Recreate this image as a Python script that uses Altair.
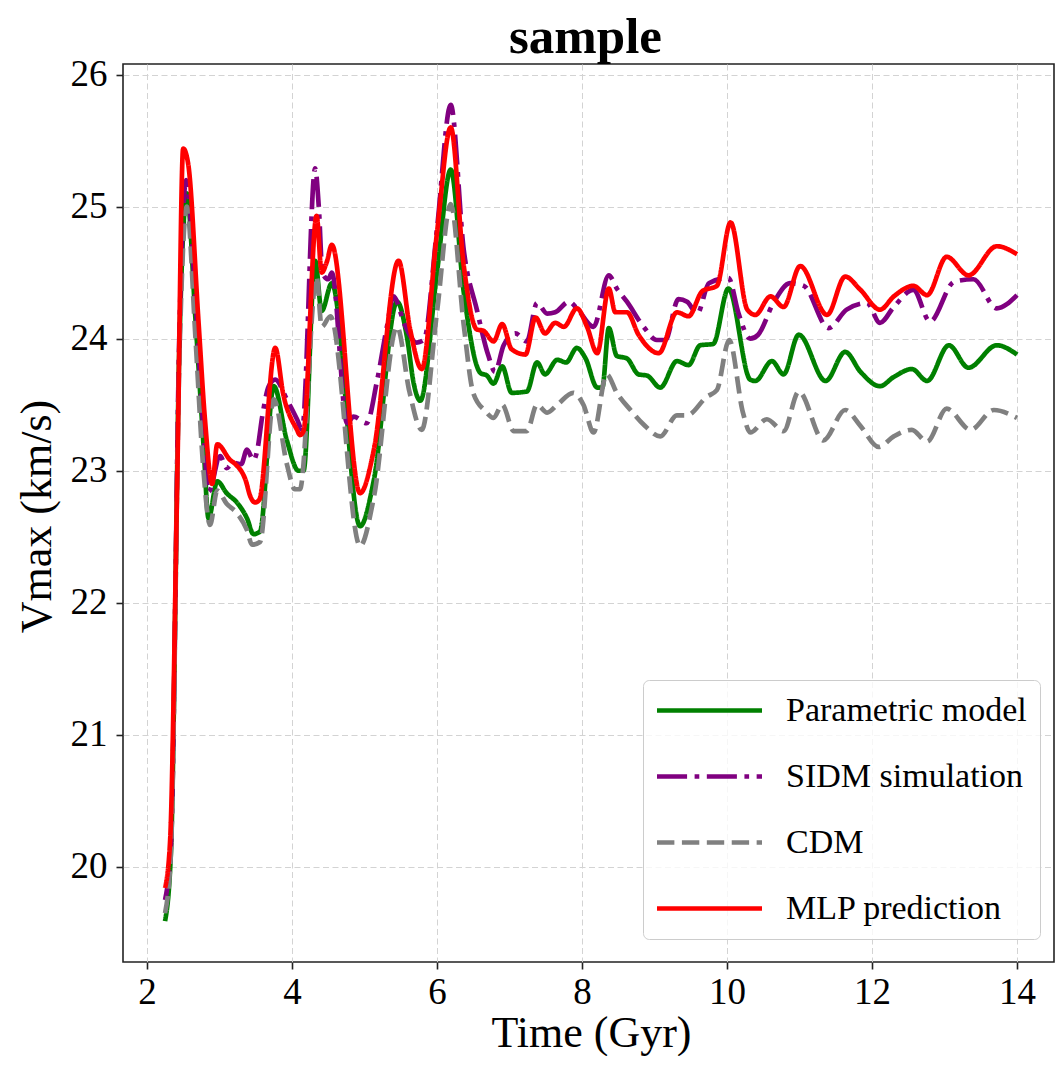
import altair as alt
import pandas as pd

# ---- data ----
series_names = ["Parametric model", "SIDM simulation", "CDM", "MLP prediction"]
series_colors = ["#008000", "#800080", "#808080", "#ff0000"]

t_param = [2.25, 2.33, 2.45, 2.55, 2.67, 2.78, 2.85, 2.97, 3.10, 3.24, 3.38, 3.47, 3.56, 3.75, 3.93, 4.09, 4.16,
           4.32, 4.41, 4.55, 4.94, 5.13, 5.45, 5.59, 5.68, 5.77, 6.00, 6.19, 6.37, 6.60, 6.69, 6.78, 6.90, 7.03,
           7.24, 7.38, 7.49, 7.66, 7.78, 7.93, 8.05, 8.21, 8.28, 8.37, 8.48, 8.62, 8.78, 8.90, 9.08, 9.31, 9.47,
           9.63, 9.81, 10.02, 10.32, 10.39, 10.62, 10.78, 10.99, 11.36, 11.63, 11.84, 12.11, 12.30, 12.55, 12.76,
           13.06, 13.33, 13.72, 14.00]
v_param = [19.59, 20.10, 24.00, 25.10, 24.14, 23.20, 22.64, 22.92, 22.83, 22.76, 22.64, 22.52, 22.54, 23.64, 23.23,
           23.00, 23.00, 24.59, 24.21, 24.42, 22.58, 22.93, 24.28, 24.00, 23.66, 23.53, 24.50, 25.28, 24.35, 23.74,
           23.72, 23.66, 23.79, 23.59, 23.60, 23.82, 23.73, 23.84, 23.82, 23.93, 23.85, 23.63, 23.63, 24.08, 23.87,
           23.85, 23.73, 23.72, 23.63, 23.83, 23.80, 23.95, 23.96, 24.38, 23.69, 23.68, 23.83, 23.73, 24.03, 23.68,
           23.90, 23.75, 23.64, 23.71, 23.77, 23.68, 23.95, 23.78, 23.95, 23.88]

t_sidm = [2.25, 2.33, 2.45, 2.54, 2.67, 2.78, 2.85, 3.01, 3.10, 3.19, 3.30, 3.38, 3.47, 3.52, 3.59, 3.68, 3.77,
          3.93, 4.07, 4.14, 4.32, 4.37, 4.42, 4.50, 4.55, 4.76, 4.85, 5.03, 5.17, 5.31, 5.40, 5.56, 5.72, 5.82,
          6.00, 6.19, 6.37, 6.55, 6.71, 6.80, 6.92, 7.08, 7.24, 7.38, 7.52, 7.63, 7.82, 7.93, 8.16, 8.37, 8.48,
          8.62, 8.85, 9.03, 9.15, 9.33, 9.45, 9.59, 9.75, 10.02, 10.16, 10.32, 10.43, 10.64, 10.87, 11.06, 11.40,
          11.65, 11.93, 12.11, 12.30, 12.57, 12.80, 13.13, 13.40, 13.72, 14.00]
v_sidm = [19.75, 20.15, 24.10, 25.20, 24.30, 23.30, 22.84, 23.11, 23.02, 23.06, 23.05, 23.16, 23.08, 23.15, 23.41,
          23.64, 23.69, 23.54, 23.39, 23.31, 25.29, 25.00, 24.50, 24.45, 24.50, 23.36, 23.41, 23.36, 23.67, 24.09,
          24.32, 24.10, 23.97, 23.99, 24.83, 25.77, 24.67, 24.22, 23.87, 23.75, 23.95, 24.04, 23.98, 24.27, 24.19,
          24.20, 24.28, 24.23, 24.09, 24.48, 24.38, 24.28, 24.09, 23.99, 23.99, 24.30, 24.28, 24.19, 24.42, 24.46,
          24.19, 24.00, 24.03, 24.27, 24.42, 24.40, 24.08, 24.22, 24.27, 24.12, 24.24, 24.37, 24.13, 24.43, 24.45,
          24.23, 24.33]

t_cdm = [2.25, 2.33, 2.45, 2.55, 2.67, 2.78, 2.87, 2.97, 3.10, 3.24, 3.38, 3.45, 3.56, 3.75, 3.93, 4.04, 4.11,
         4.34, 4.41, 4.53, 4.94, 5.13, 5.45, 5.62, 5.79, 6.00, 6.19, 6.37, 6.50, 6.67, 6.78, 6.90, 7.06, 7.24,
         7.38, 7.52, 7.66, 7.88, 8.02, 8.16, 8.34, 8.48, 8.67, 8.85, 9.08, 9.31, 9.45, 9.72, 9.86, 10.03, 10.22,
         10.32, 10.55, 10.78, 10.99, 11.33, 11.63, 11.84, 12.09, 12.30, 12.55, 12.76, 13.03, 13.36, 13.68, 14.00]
v_cdm = [19.65, 20.10, 23.90, 25.00, 24.00, 23.00, 22.59, 22.85, 22.75, 22.68, 22.55, 22.44, 22.46, 23.54, 23.05,
         22.86, 22.86, 24.47, 24.09, 24.17, 22.43, 22.80, 24.09, 23.60, 23.31, 24.20, 25.02, 24.10, 23.59, 23.45,
         23.40, 23.50, 23.30, 23.30, 23.50, 23.44, 23.50, 23.59, 23.50, 23.29, 23.73, 23.59, 23.46, 23.35, 23.26,
         23.42, 23.42, 23.56, 23.61, 23.99, 23.44, 23.29, 23.39, 23.30, 23.60, 23.23, 23.46, 23.34, 23.18, 23.26,
         23.31, 23.22, 23.47, 23.31, 23.46, 23.40]

t_mlp = [2.25, 2.32, 2.42, 2.50, 2.57, 2.71, 2.80, 2.90, 2.97, 3.15, 3.22, 3.36, 3.43, 3.49, 3.55, 3.77, 3.88,
         4.07, 4.11, 4.16, 4.34, 4.41, 4.48, 4.55, 4.94, 5.13, 5.47, 5.63, 5.79, 6.00, 6.19, 6.37, 6.55, 6.64,
         6.78, 6.90, 7.03, 7.22, 7.36, 7.49, 7.63, 7.75, 7.93, 8.07, 8.21, 8.37, 8.46, 8.62, 8.78, 9.06, 9.31,
         9.47, 9.66, 9.86, 10.05, 10.28, 10.39, 10.60, 10.78, 11.01, 11.38, 11.63, 11.84, 12.11, 12.30, 12.57,
         12.76, 13.03, 13.33, 13.72, 14.00]
v_mlp = [19.84, 20.20, 23.00, 25.44, 25.32, 24.14, 23.39, 22.90, 23.20, 23.08, 23.05, 22.93, 22.80, 22.76, 22.78,
         23.93, 23.58, 23.31, 23.27, 23.30, 24.93, 24.50, 24.58, 24.71, 22.83, 23.16, 24.59, 24.07, 23.77, 24.80,
         25.60, 24.55, 24.07, 24.06, 23.98, 24.11, 23.92, 23.88, 24.16, 24.04, 24.12, 24.09, 24.23, 24.09, 23.89,
         24.38, 24.20, 24.20, 24.03, 23.89, 24.20, 24.17, 24.36, 24.40, 24.88, 24.22, 24.18, 24.32, 24.24, 24.55,
         24.18, 24.47, 24.37, 24.22, 24.32, 24.40, 24.33, 24.62, 24.48, 24.70, 24.64]

x_ticks = [2, 4, 6, 8, 10, 12, 14]
y_ticks = [20, 21, 22, 23, 24, 25, 26]

# ---- long table ----
rows = []
for name, ts, vs in zip(series_names, [t_param, t_sidm, t_cdm, t_mlp], [v_param, v_sidm, v_cdm, v_mlp]):
    for i, (t, v) in enumerate(zip(ts, vs)):
        rows.append({"series": name, "time": t, "vmax": v, "idx": i})
df = pd.DataFrame(rows)

LW = 4.7
dashes = [[1, 0], [6.4 * LW, 1.6 * LW, 1 * LW, 1.6 * LW], [3.7 * LW, 1.6 * LW], [1, 0]]
FONT = "Liberation Serif"

legend = alt.Legend(title=None, orient="none", legendX=520, legendY=616)

lines = alt.Chart(df).mark_line(strokeWidth=LW, interpolate="monotone").encode(
    x=alt.X("time:Q",
            scale=alt.Scale(domain=[1.67, 14.51], nice=False, zero=False),
            axis=alt.Axis(values=x_ticks, title="Time (Gyr)", titleX=468, titleY=84,
                          titleBaseline="alphabetic", labelPadding=5)),
    y=alt.Y("vmax:Q",
            scale=alt.Scale(domain=[19.28, 26.08], nice=False, zero=False),
            axis=alt.Axis(values=y_ticks, title="Vmax (km/s)", titleX=-73, titleY=452,
                          titleBaseline="alphabetic", labelPadding=9)),
    color=alt.Color("series:N", scale=alt.Scale(domain=series_names, range=series_colors), legend=legend),
    strokeDash=alt.StrokeDash("series:N", scale=alt.Scale(domain=series_names, range=dashes), legend=legend),
    order=alt.Order("idx:Q"),
)

chart = lines.properties(
    width=931,
    height=898,
    autosize=alt.AutoSizeParams(type="none"),
    padding={"left": 115, "top": 56, "right": 2, "bottom": 94},
    title=alt.TitleParams("sample", font=FONT, fontSize=51, fontWeight="bold", color="black",
                          anchor="middle", frame="group", baseline="alphabetic", offset=11, dx=-3, dy=59),
).configure_view(
    stroke="#222222", strokeWidth=1.6
).configure_axis(
    labelFont=FONT, labelFontSize=37, labelColor="black",
    titleFont=FONT, titleFontSize=44, titleColor="black", titleFontWeight="normal",
    domain=False, tickColor="#222222", tickWidth=1.6, tickSize=7,
    grid=True, gridColor="#d3d3d3", gridDash=[6, 3.5], gridWidth=1,
).configure_legend(
    labelFont=FONT, labelFontSize=34, labelColor="black", labelLimit=0, labelOffset=59,
    symbolType="M-3.5,0L3.5,0", symbolSize=900, symbolStrokeWidth=LW, symbolOffset=36,
    fillColor="rgba(255,255,255,0.8)", strokeColor="#cccccc", cornerRadius=6, padding=13,
    rowPadding=31,
)

chart.save("out.html", embed_options={"renderer": "svg", "actions": False})
